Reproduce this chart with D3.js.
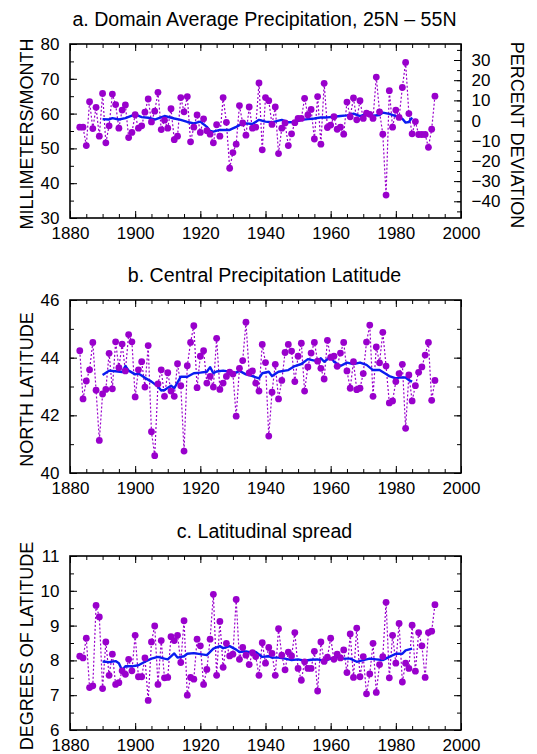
<!DOCTYPE html>
<html>
<head>
<meta charset="utf-8">
<script src="https://cdn.jsdelivr.net/npm/d3@7"></script>
<style>
  body { margin: 0; background: #fff; }
  text { font-family: "Liberation Sans", Arial, sans-serif; }
</style>
</head>
<body>
<script>
var W = 537, H = 754;

// years of the annual series
var firstYear = 1883, lastYear = 1992;
var years = d3.range(firstYear, lastYear + 1);

// a. domain average precipitation (mm/month)
var precip = [56.1, 56.1, 50.8, 63.4, 55.7, 61.8, 53.5, 65.8, 51.6, 56.5,
  65.6, 62.6, 55.8, 61.0, 62.5, 53.1, 54.6, 59.7, 55.8, 56.5,
  60.4, 64.2, 57.6, 60.7, 66.1, 55.4, 58.1, 55.8, 61.4, 52.5,
  53.5, 64.6, 60.5, 64.9, 51.9, 56.1, 59.6, 54.6, 58.5, 55.1,
  54.1, 51.6, 56.8, 53.5, 64.6, 57.5, 44.3, 48.8, 51.2, 62.3,
  57.3, 53.8, 61.9, 55.8, 56.1, 68.8, 49.6, 64.6, 63.7, 56.9,
  61.9, 48.5, 55.8, 57.3, 50.8, 54.2, 57.4, 58.6, 58.6, 64.4,
  59.6, 61.2, 52.7, 64.9, 51.2, 68.7, 56.0, 56.7, 59.1, 55.5,
  56.1, 54.1, 63.3, 59.1, 64.5, 58.2, 63.7, 58.6, 60.1, 59.8,
  58.6, 70.5, 60.5, 54.1, 36.6, 66.6, 56.1, 61.0, 58.9, 67.5,
  74.7, 60.0, 54.2, 57.7, 54.0, 54.0, 54.0, 50.3, 55.5, 65.0];
var precipMean = 58;

// b. central precipitation latitude (deg N)
var centLat = [44.24, 42.57, 43.19, 43.58, 44.53, 42.87, 41.13, 42.74, 42.90, 44.15,
  42.92, 44.55, 43.65, 44.47, 43.54, 44.80, 44.55, 42.64, 43.58, 43.86,
  42.98, 44.42, 41.43, 40.60, 43.09, 43.58, 42.66, 43.48, 42.84, 42.66,
  43.79, 43.03, 40.76, 43.72, 44.53, 45.11, 42.96, 44.05, 44.24, 43.12,
  43.35, 42.98, 44.67, 42.90, 43.12, 43.35, 43.50, 43.43, 41.97, 43.63,
  43.90, 45.23, 43.47, 43.54, 43.12, 42.84, 44.46, 43.83, 41.28, 42.80,
  43.77, 42.57, 43.21, 44.18, 44.46, 44.23, 43.17, 44.05, 44.50, 42.84,
  43.68, 44.16, 44.53, 43.88, 43.63, 43.26, 44.60, 44.01, 44.05, 43.70,
  44.16, 44.53, 43.54, 42.94, 43.86, 42.89, 42.94, 43.45, 44.54, 45.13,
  42.66, 44.37, 43.82, 44.88, 43.71, 42.43, 42.50, 43.17, 43.45, 43.77,
  41.55, 43.40, 42.50, 43.03, 43.49, 43.68, 44.09, 44.53, 42.52, 43.21];

// c. latitudinal spread (deg latitude)
var spread = [8.12, 8.07, 8.64, 7.22, 7.27, 9.58, 9.25, 7.19, 8.53, 7.57,
  8.18, 7.31, 7.36, 7.70, 7.60, 8.03, 7.70, 8.72, 7.53, 7.53,
  8.07, 6.85, 8.53, 8.99, 7.31, 8.57, 7.50, 7.51, 8.68, 8.57,
  8.72, 7.94, 9.14, 7.00, 7.51, 7.46, 8.61, 8.42, 7.31, 7.74,
  8.61, 9.90, 7.57, 9.12, 7.80, 8.49, 8.13, 8.18, 9.75, 8.03,
  8.37, 8.15, 7.88, 8.22, 8.11, 7.57, 8.51, 7.92, 8.37, 8.20,
  7.57, 8.91, 8.15, 7.73, 8.24, 8.13, 8.80, 7.77, 7.43, 7.96,
  7.77, 7.77, 8.26, 7.12, 8.53, 7.97, 8.09, 8.64, 8.03, 8.18,
  8.07, 8.30, 7.65, 8.76, 7.51, 8.93, 7.53, 8.11, 7.04, 7.61,
  8.49, 7.08, 7.88, 8.11, 9.67, 7.50, 8.72, 7.92, 9.06, 7.38,
  7.92, 7.77, 9.01, 7.69, 8.80, 8.42, 7.51, 8.80, 8.84, 9.60];

// smoothed curves
var smoothYearsA = [1890, 1892, 1893, 1895, 1897, 1900, 1902, 1904, 1906, 1909,
  1912, 1914, 1916, 1918, 1920, 1922, 1923, 1924, 1926, 1929,
  1931, 1932, 1934, 1936, 1938, 1940, 1942, 1944, 1945, 1947,
  1949, 1951, 1953, 1955, 1957, 1959, 1961, 1963, 1965, 1967,
  1969, 1971, 1973, 1975, 1976, 1978, 1980, 1982, 1983, 1984, 1985];
var smoothA = [58.4, 58.3, 58.7, 58.3, 58.7, 59.8, 59.0, 58.8, 58.3, 59.3,
  58.6, 58.2, 57.6, 57.2, 57.7, 56.2, 55.0, 54.8, 55.3, 55.3,
  56.2, 56.7, 57.2, 57.0, 58.2, 57.7, 57.5, 58.0, 58.2, 57.5,
  57.6, 58.2, 58.4, 58.6, 58.9, 58.9, 59.1, 59.3, 59.5, 60.0,
  59.3, 59.9, 59.4, 59.6, 60.3, 59.9, 59.3, 58.5, 57.4, 57.6, 58.9];

var smoothYearsB = [1890, 1892, 1894, 1896, 1897, 1898, 1900, 1901, 1903, 1905,
  1907, 1908, 1909, 1911, 1912, 1914, 1916, 1918, 1920, 1922,
  1923, 1924, 1925, 1927, 1929, 1931, 1932, 1934, 1936, 1938,
  1939, 1941, 1942, 1944, 1946, 1947, 1949, 1951, 1953, 1955,
  1956, 1957, 1958, 1960, 1961, 1963, 1965, 1967, 1969, 1971,
  1973, 1975, 1977, 1978, 1980, 1981, 1983, 1984, 1985];
var smoothB = [43.40, 43.55, 43.53, 43.50, 43.71, 43.55, 43.42, 43.45, 43.30, 43.17,
  43.00, 42.86, 42.88, 43.03, 42.94, 43.34, 43.34, 43.46, 43.48, 43.51,
  43.67, 43.46, 43.52, 43.55, 43.51, 43.48, 43.54, 43.42, 43.36, 43.28,
  43.46, 43.51, 43.36, 43.51, 43.55, 43.57, 43.71, 43.78, 43.95, 43.90,
  43.88, 43.98, 43.86, 44.03, 43.86, 43.71, 43.83, 43.78, 43.83, 43.75,
  43.57, 43.57, 43.43, 43.36, 43.28, 43.31, 43.31, 43.22, 43.17];

var smoothYearsC = [1890, 1892, 1894, 1895, 1896, 1897, 1899, 1901, 1903, 1905,
  1907, 1909, 1910, 1912, 1913, 1915, 1916, 1918, 1920, 1922,
  1924, 1926, 1927, 1929, 1931, 1932, 1934, 1936, 1937, 1939,
  1941, 1942, 1944, 1946, 1948, 1950, 1952, 1954, 1956, 1958,
  1960, 1962, 1964, 1966, 1968, 1970, 1972, 1974, 1976, 1978,
  1980, 1982, 1983, 1985];
var smoothC = [7.97, 7.95, 7.98, 7.92, 7.72, 7.83, 7.83, 7.86, 7.96, 8.05,
  8.10, 8.05, 8.03, 8.20, 8.08, 8.12, 8.19, 8.21, 8.18, 8.15,
  8.34, 8.41, 8.35, 8.41, 8.31, 8.24, 8.26, 8.22, 8.24, 8.10,
  8.12, 8.08, 8.08, 8.05, 8.01, 8.03, 7.99, 8.02, 8.03, 7.98,
  8.05, 8.10, 8.05, 8.05, 7.96, 8.01, 8.05, 8.03, 8.01, 8.10,
  8.19, 8.19, 8.29, 8.34];

var panels = [
  {title: "a. Domain Average Precipitation, 25N \u2013 55N", ylabel: "MILLIMETERS/MONTH",
   top: 44, bottom: 218, ydom: [30, 80], ymajor: 10, yminor: 5,
   values: precip, sYears: smoothYearsA, sValues: smoothA, pct: true},
  {title: "b. Central Precipitation Latitude", ylabel: "NORTH LATITUDE",
   top: 300, bottom: 473, ydom: [40, 46], ymajor: 2, yminor: 1,
   values: centLat, sYears: smoothYearsB, sValues: smoothB},
  {title: "c. Latitudinal spread", ylabel: "DEGREES OF LATITUDE",
   top: 556, bottom: 730, ydom: [6, 11], ymajor: 1, yminor: 0.5,
   values: spread, sYears: smoothYearsC, sValues: smoothC}
];

var left = 70, right = 461;
var dotColor = "#9900cc", lineColor = "#0a1cf0";

var svg = d3.select("body").append("svg")
    .attr("width", W)
    .attr("height", H);

var x = d3.scaleLinear().domain([1880, 2000]).range([left, right]);

function steps(a, b, s) {
  var out = [];
  for (var v = a; v <= b + 1e-9; v += s) out.push(+v.toFixed(3));
  return out;
}

function styleAxis(g, size) {
  g.select(".domain").remove();
  g.selectAll(".tick line").attr("stroke", "#000").attr("stroke-width", 1);
  g.selectAll("text")
    .attr("fill", "#000")
    .style("font-family", "'Liberation Sans', Arial, sans-serif")
    .style("font-size", size + "px");
}

panels.forEach(function (p) {
  var y = d3.scaleLinear().domain(p.ydom).range([p.bottom, p.top]);
  var g = svg.append("g");

  var xMajor = steps(1880, 2000, 20), xMinor = steps(1880, 2000, 5);
  var yMajor = steps(p.ydom[0], p.ydom[1], p.ymajor);
  var yMinor = steps(p.ydom[0], p.ydom[1], p.yminor);

  // bottom axis
  g.append("g").attr("transform", "translate(0," + p.bottom + ")")
    .call(d3.axisBottom(x).tickValues(xMinor).tickSize(-4).tickFormat(""))
    .call(styleAxis, 17);
  g.append("g").attr("transform", "translate(0," + p.bottom + ")")
    .call(d3.axisBottom(x).tickValues(xMajor).tickSize(-7).tickPadding(9).tickFormat(d3.format("d")))
    .call(styleAxis, 17);
  // top axis
  g.append("g").attr("transform", "translate(0," + p.top + ")")
    .call(d3.axisTop(x).tickValues(xMinor).tickSize(-4).tickFormat(""))
    .call(styleAxis, 17);
  g.append("g").attr("transform", "translate(0," + p.top + ")")
    .call(d3.axisTop(x).tickValues(xMajor).tickSize(-7).tickFormat(""))
    .call(styleAxis, 17);
  // left axis
  g.append("g").attr("transform", "translate(" + left + ",0)")
    .call(d3.axisLeft(y).tickValues(yMinor).tickSize(-4).tickFormat(""))
    .call(styleAxis, 17);
  g.append("g").attr("transform", "translate(" + left + ",0)")
    .call(d3.axisLeft(y).tickValues(yMajor).tickSize(-7).tickPadding(10.5).tickFormat(d3.format("d")))
    .call(styleAxis, 17);

  // right axis
  if (p.pct) {
    var yp = d3.scaleLinear()
      .domain([(p.ydom[0] / precipMean - 1) * 100, (p.ydom[1] / precipMean - 1) * 100])
      .range([p.bottom, p.top]);
    g.append("g").attr("transform", "translate(" + right + ",0)")
      .call(d3.axisRight(yp).tickValues(steps(-45, 35, 5)).tickSize(-4).tickFormat(""))
      .call(styleAxis, 17);
    g.append("g").attr("transform", "translate(" + right + ",0)")
      .call(d3.axisRight(yp).tickValues(steps(-40, 30, 10)).tickSize(-7).tickPadding(10.5).tickFormat(d3.format("d")))
      .call(styleAxis, 17);
    svg.append("text")
      .attr("transform", "translate(511," + ((p.top + p.bottom) / 2 + 4) + ") rotate(90)")
      .attr("text-anchor", "middle")
      .style("font-size", "18px")
      .text("PERCENT DEVIATION");
  } else {
    g.append("g").attr("transform", "translate(" + right + ",0)")
      .call(d3.axisRight(y).tickValues(yMinor).tickSize(-4).tickFormat(""))
      .call(styleAxis, 17);
    g.append("g").attr("transform", "translate(" + right + ",0)")
      .call(d3.axisRight(y).tickValues(yMajor).tickSize(-7).tickFormat(""))
      .call(styleAxis, 17);
  }

  // frame
  g.append("rect")
    .attr("x", left).attr("y", p.top)
    .attr("width", right - left).attr("height", p.bottom - p.top)
    .attr("fill", "none").attr("stroke", "#000").attr("stroke-width", 1.6);

  // title and y label
  svg.append("text")
    .attr("x", (left + right) / 2 - 1).attr("y", p.top - 18)
    .attr("text-anchor", "middle")
    .style("font-size", "19.6px")
    .text(p.title);
  svg.append("text")
    .attr("transform", "translate(32.5," + ((p.top + p.bottom) / 2 + 3) + ") rotate(-90)")
    .attr("text-anchor", "middle")
    .style("font-size", "18px")
    .text(p.ylabel);

  // annual series: dotted line + dots
  var pts = years.map(function (yr, i) { return {year: yr, v: p.values[i]}; });
  g.append("path")
    .datum(pts)
    .attr("fill", "none")
    .attr("stroke", dotColor)
    .attr("stroke-width", 1.2)
    .attr("stroke-dasharray", "2,2")
    .attr("d", d3.line().x(function (d) { return x(d.year); }).y(function (d) { return y(d.v); }));

  // smoothed curve
  var sm = p.sYears.map(function (yr, i) { return {year: yr, v: p.sValues[i]}; });
  g.append("path")
    .datum(sm)
    .attr("fill", "none")
    .attr("stroke", lineColor)
    .attr("stroke-width", 2.4)
    .attr("stroke-linejoin", "round")
    .attr("d", d3.line().x(function (d) { return x(d.year); }).y(function (d) { return y(d.v); }));

  g.selectAll("circle.dot")
    .data(pts)
    .enter().append("circle")
    .attr("class", "dot")
    .attr("cx", function (d) { return x(d.year); })
    .attr("cy", function (d) { return y(d.v); })
    .attr("r", 3.4)
    .attr("fill", dotColor);
});
</script>
</body>
</html>
